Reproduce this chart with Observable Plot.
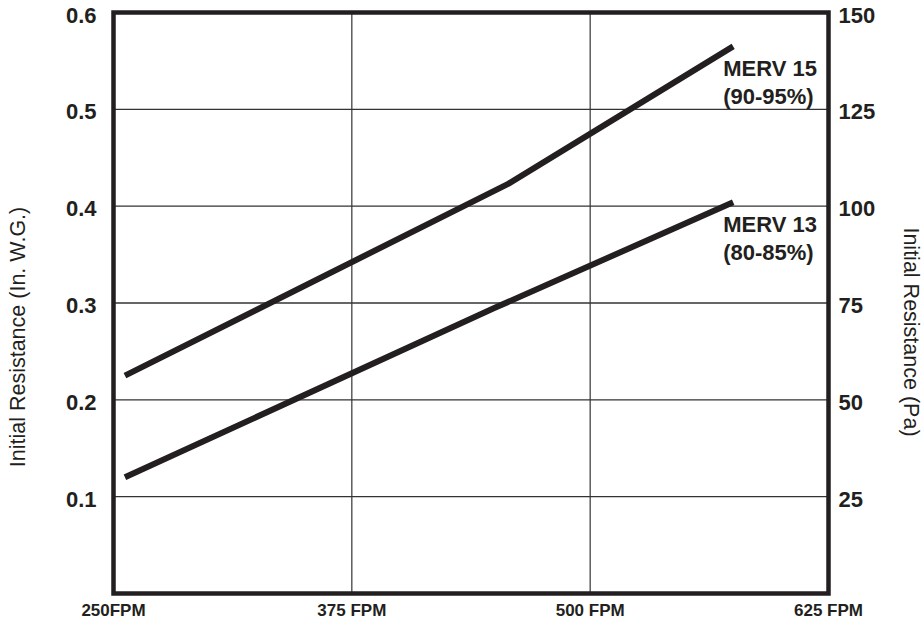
<!DOCTYPE html>
<html>
<head>
<meta charset="utf-8">
<script src="https://cdn.jsdelivr.net/npm/d3@7"></script>
<script src="https://cdn.jsdelivr.net/npm/@observablehq/plot@0.6"></script>
<style>
  html, body { margin: 0; padding: 0; background: #fff; }
  svg { display: block; }
</style>
</head>
<body>
<div id="chart"></div>
<script>
// Face velocity (FPM) and initial resistance (in. W.G.)
const merv15Fpm = [256, 457, 575];
const merv15Res = [0.225, 0.423, 0.565];
const merv13Fpm = [256, 450, 575];
const merv13Res = [0.12, 0.295, 0.404];

const seriesNames = ["MERV 15\n(90-95%)", "MERV 13\n(80-85%)"];

const xTicks = [250, 375, 500, 625];
const xTickLabels = ["250FPM", "375 FPM", "500 FPM", "625 FPM"];
const yTicks = [0.1, 0.2, 0.3, 0.4, 0.5, 0.6];
const paTickLabels = ["25", "50", "75", "100", "125", "150"];
const xGrid = [375, 500];
const yGrid = [0.1, 0.2, 0.3, 0.4, 0.5];

const leftTitle = "Initial Resistance (In. W.G.)";
const rightTitle = "Initial Resistance (Pa)";

const data = [
  ...merv15Fpm.map((f, i) => ({series: seriesNames[0], fpm: f, res: merv15Res[i]})),
  ...merv13Fpm.map((f, i) => ({series: seriesNames[1], fpm: f, res: merv13Res[i]}))
];
const ends = [
  {series: seriesNames[0], fpm: merv15Fpm[merv15Fpm.length - 1], res: merv15Res[merv15Res.length - 1]},
  {series: seriesNames[1], fpm: merv13Fpm[merv13Fpm.length - 1], res: merv13Res[merv13Res.length - 1]}
];

const ink = "#231f20";
const font = "'Liberation Sans', Arial, Helvetica, sans-serif";

const chart = Plot.plot({
  width: 924,
  height: 626,
  marginLeft: 113,
  marginRight: 96,
  marginTop: 12,
  marginBottom: 33,
  style: {fontFamily: font, color: ink, background: "#fff"},
  x: {domain: [250, 625]},
  y: {domain: [0, 0.6]},
  marks: [
    Plot.ruleX(xGrid, {stroke: "#333", strokeWidth: 1.2}),
    Plot.ruleY(yGrid, {stroke: "#333", strokeWidth: 1.4}),
    Plot.axisX({
      ticks: xTicks, tickSize: 0, tickPadding: 10,
      tickFormat: (d, i) => xTickLabels[i],
      fontSize: 17, fontWeight: "bold", label: null, fill: ink
    }),
    Plot.axisY({
      anchor: "left", ticks: yTicks, tickSize: 0, tickPadding: 17,
      tickFormat: d => d.toFixed(1),
      fontSize: 22, fontWeight: "bold", label: null, fill: ink, dy: 3
    }),
    Plot.axisY({
      anchor: "right", ticks: yTicks, tickSize: 0, tickPadding: 10,
      tickFormat: (d, i) => paTickLabels[i],
      fontSize: 22, fontWeight: "bold", label: null, fill: ink, dy: 3
    }),
    Plot.text([leftTitle], {
      frameAnchor: "left", text: d => d, rotate: -90, dx: -95, dy: 34,
      fontSize: 21.5, fill: ink, textAnchor: "middle"
    }),
    Plot.text([rightTitle], {
      frameAnchor: "right", text: d => d, rotate: 90, dx: 82, dy: 29,
      fontSize: 21.5, fill: ink, textAnchor: "middle"
    }),
    Plot.line(data, {
      x: "fpm", y: "res", z: "series",
      stroke: ink, strokeWidth: 6, strokeLinecap: "butt", strokeLinejoin: "round"
    }),
    Plot.text(ends, {
      x: "fpm", y: "res", text: "series",
      textAnchor: "start", lineAnchor: "top", lineHeight: 1.3,
      dx: -10, dy: 9, fontSize: 22, fontWeight: "bold", fill: ink
    }),
    Plot.frame({stroke: ink, strokeWidth: 4.5})
  ]
});

document.getElementById("chart").appendChild(chart);
</script>
</body>
</html>
